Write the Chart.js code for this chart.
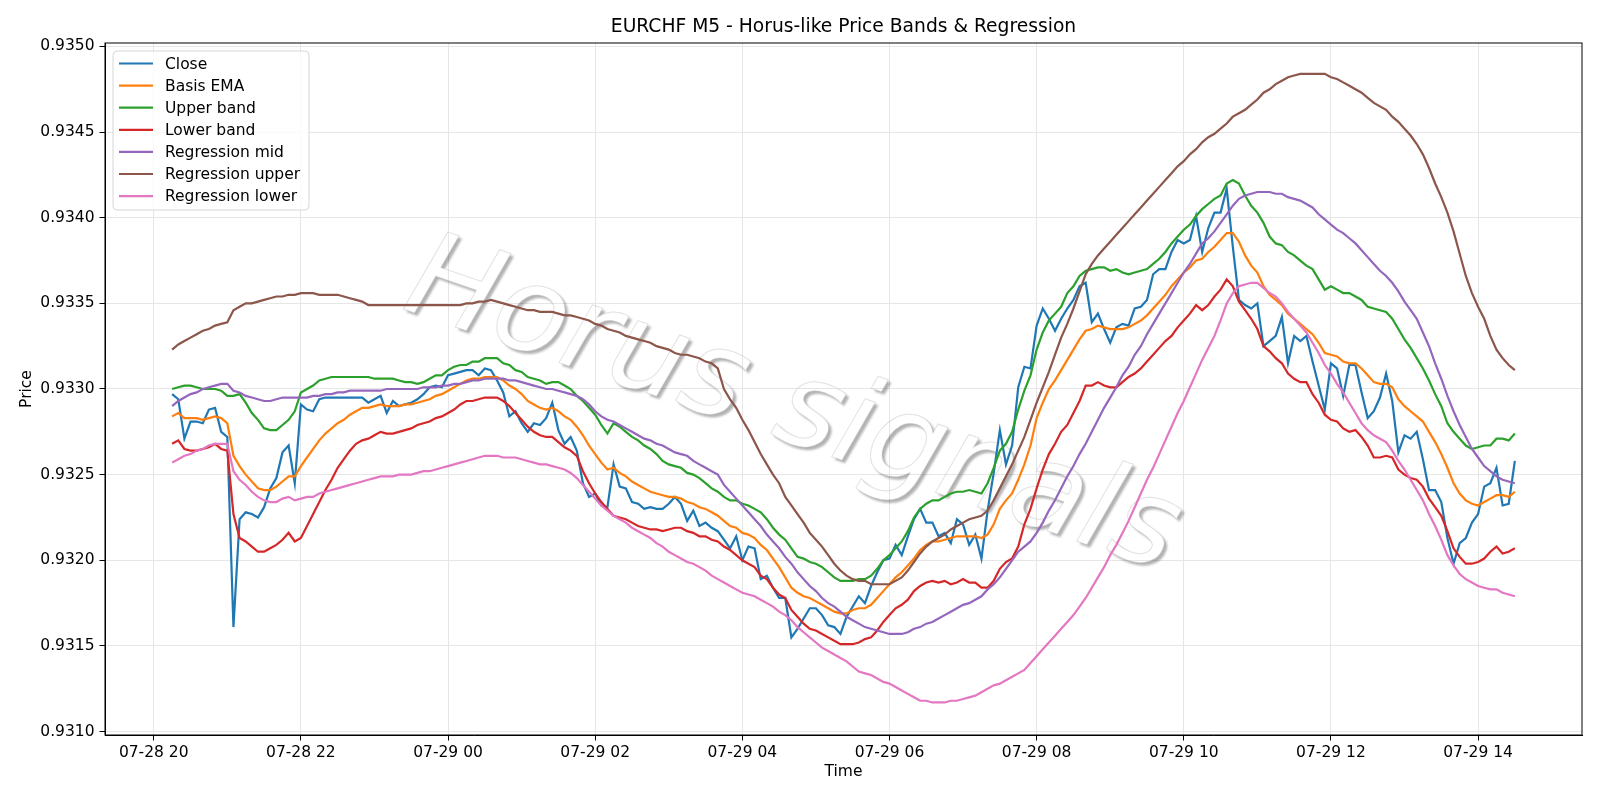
<!DOCTYPE html>
<html>
<head>
<meta charset="utf-8">
<title>EURCHF M5 - Horus-like Price Bands & Regression</title>
<script src="https://cdn.jsdelivr.net/npm/chart.js@4.4.1/dist/chart.umd.min.js"></script>
<style>
html, body { margin: 0; padding: 0; background: #fff; }
</style>
</head>
<body>
<canvas id="chart" width="1600" height="800"></canvas>
<script>
// prices are kept in steps of 0.00001 above 0.93000 (297 -> 0.93297)
const base = 0.93
const step = 0.00001
// first bar 07-28 20:15, one bar every 5 minutes, x is in hours since 07-28 00:00
const start_hour = 20.25
const bar_minutes = 5

const close = [297,294,271,281,281,280,288,289,275,272,
    161,224,228,227,225,231,242,248,263,267,
    245,291,288,287,294,295,295,295,295,295,
    295,295,292,294,296,286,293,290,291,292,
    294,297,301,302,301,308,309,310,311,311,
    308,312,311,305,298,284,287,280,275,280,
    279,283,292,276,268,272,264,245,237,239,
    232,231,256,243,242,234,233,230,231,230,
    230,233,237,233,223,229,220,222,219,217,
    212,207,214,200,208,207,189,191,184,178,
    178,155,160,166,172,172,168,162,161,157,
    167,173,179,175,185,193,200,201,209,203,
    214,224,230,222,222,214,216,210,224,221,
    209,215,201,229,251,276,256,267,301,313,
    312,337,347,341,334,341,347,352,360,362,
    339,344,335,327,336,338,337,347,348,352,
    367,370,370,380,387,385,387,401,380,394,
    403,403,417,383,352,349,347,350,325,328,
    331,342,315,331,328,331,316,302,288,315,
    312,296,314,314,298,283,287,295,309,293,
    263,273,271,275,259,241,241,234,213,198,
    210,213,222,227,243,245,254,232,233,258]

const basis_ema = [284,286,283,283,283,282,283,284,283,280,
    261,255,250,246,242,241,241,243,246,249,
    249,255,260,265,270,274,277,280,282,285,
    287,289,289,290,291,290,290,290,291,291,
    292,293,294,296,297,299,301,303,305,306,
    306,307,307,307,305,302,300,297,293,291,
    289,288,289,287,284,282,278,273,267,262,
    257,253,254,251,249,246,244,242,240,239,
    238,237,237,236,234,233,231,230,228,226,
    223,220,219,216,215,213,209,206,201,196,
    190,184,181,179,178,176,174,172,170,169,
    169,171,172,172,174,178,182,186,190,193,
    197,201,206,209,211,211,212,213,214,214,
    214,214,213,215,221,230,235,239,247,256,
    267,283,292,300,305,311,317,323,329,334,
    335,337,336,335,335,335,336,338,340,343,
    347,351,355,360,364,368,371,375,376,380,
    383,387,391,391,386,378,372,368,360,355,
    352,349,344,341,338,335,332,327,321,320,
    319,316,315,315,312,308,304,303,303,301,
    294,290,287,284,281,275,269,262,254,245,
    239,235,233,232,234,236,238,238,237,240]

const upper_band = [300,301,302,302,301,300,300,300,299,296,
    296,297,292,286,282,277,276,276,279,282,
    287,298,300,302,305,306,307,307,307,307,
    307,307,307,306,306,306,306,305,304,304,
    303,304,306,308,308,311,313,314,314,316,
    316,318,318,318,315,314,311,310,307,306,
    305,303,304,304,302,300,296,293,289,285,
    279,274,280,278,275,272,270,267,265,262,
    258,256,255,254,251,250,248,245,242,240,
    237,235,235,233,232,230,228,224,219,215,
    212,207,202,201,199,198,196,193,190,188,
    188,188,189,189,191,195,200,203,207,211,
    217,225,230,233,235,235,237,239,240,240,
    241,240,239,245,254,264,268,275,288,299,
    308,323,333,340,344,348,356,360,366,369,
    370,371,371,369,370,368,367,368,369,370,
    373,376,380,385,389,393,396,401,405,408,
    411,413,420,422,420,413,407,403,397,389,
    385,384,380,378,375,372,370,364,358,360,
    358,356,356,354,352,348,347,346,345,341,
    335,329,324,318,312,305,297,290,280,275,
    271,267,265,266,267,267,271,271,270,274]

const lower_band = [268,270,265,264,264,265,266,268,265,264,
    227,213,211,208,205,205,207,209,212,216,
    211,213,220,227,234,241,247,254,259,264,
    268,270,271,273,275,274,274,275,276,277,
    279,280,281,283,284,286,288,291,293,293,
    294,295,295,295,293,290,286,282,278,275,
    273,272,272,269,266,264,261,252,245,239,
    234,230,226,225,224,222,220,219,218,218,
    217,218,219,219,217,216,214,214,212,211,
    208,206,203,200,198,196,191,189,184,180,
    178,171,167,163,160,159,157,155,153,151,
    151,151,152,154,155,159,164,168,172,174,
    177,182,185,187,188,187,188,186,187,189,
    187,187,184,184,188,195,199,201,208,221,
    230,242,253,262,268,275,279,286,293,302,
    302,304,302,301,301,304,307,309,312,316,
    320,324,328,331,336,340,344,349,346,349,
    354,358,364,360,351,346,341,335,325,322,
    318,315,309,306,304,304,297,292,285,282,
    281,277,275,276,272,267,260,260,261,260,
    253,250,248,247,243,236,231,226,217,207,
    202,198,198,199,201,205,208,204,205,207]

const reg_mid = [290,293,295,297,298,300,301,302,303,303,
    299,298,296,295,294,293,293,294,295,295,
    295,295,295,296,296,297,297,298,298,299,
    299,299,299,299,299,300,300,300,300,300,
    300,301,301,301,302,302,303,303,304,305,
    305,306,306,306,306,305,305,304,303,302,
    301,300,300,299,298,297,296,294,291,287,
    284,282,281,279,277,275,273,271,270,268,
    267,265,263,262,261,258,256,254,252,250,
    244,240,236,232,228,224,220,215,211,207,
    202,198,193,189,185,182,178,175,173,170,
    167,165,163,161,160,159,158,157,157,157,
    158,160,161,163,164,166,168,170,172,174,
    175,177,179,183,186,190,195,200,205,208,
    211,216,222,229,235,242,249,255,262,268,
    275,282,289,295,301,308,313,320,325,332,
    338,344,350,356,362,368,373,379,385,388,
    392,397,402,407,411,413,414,415,415,415,
    414,414,412,411,410,408,406,402,399,396,
    393,391,388,385,381,377,373,369,366,362,
    357,351,346,341,333,325,315,306,296,287,
    279,272,265,260,255,252,249,247,246,245]

const reg_upper = [323,326,328,330,332,334,335,337,338,339,
    346,348,350,350,351,352,353,354,354,355,
    355,356,356,356,355,355,355,355,354,353,
    352,351,349,349,349,349,349,349,349,349,
    349,349,349,349,349,349,349,349,350,350,
    351,351,352,351,350,349,348,347,346,346,
    345,345,345,344,343,343,342,341,340,338,
    337,335,334,333,331,330,329,328,327,325,
    324,323,321,320,320,319,318,316,315,312,
    300,294,289,282,276,269,262,256,250,245,
    237,232,227,222,216,212,208,203,198,194,
    191,189,188,188,186,186,186,186,188,190,
    194,199,204,208,211,213,215,218,220,222,
    224,225,226,229,235,242,249,256,264,272,
    282,292,301,310,320,330,338,347,357,367,
    373,378,382,386,390,394,398,402,406,410,
    414,418,422,426,430,433,437,440,444,447,
    449,452,455,459,461,463,466,469,473,475,
    478,480,482,483,484,484,484,484,484,482,
    481,479,477,475,473,470,467,465,463,459,
    456,452,448,443,437,429,420,412,403,392,
    379,366,356,348,341,331,323,318,314,311]

const reg_lower = [257,259,261,262,264,265,267,268,268,268,
    252,247,244,240,237,235,234,234,236,237,
    235,236,237,237,239,240,241,242,243,244,
    245,246,247,248,249,249,249,250,250,250,
    251,252,252,253,254,255,256,257,258,259,
    260,261,261,261,260,260,260,259,258,257,
    256,256,255,254,253,251,248,244,240,236,
    232,229,226,224,222,219,217,215,213,210,
    208,205,203,201,199,198,196,194,191,189,
    187,185,183,181,180,179,177,175,173,170,
    168,165,161,158,155,152,149,147,145,143,
    141,138,135,134,133,131,129,128,126,124,
    122,120,118,118,117,117,117,118,118,119,
    120,121,123,125,127,128,130,132,134,136,
    140,144,148,152,156,160,164,168,173,178,
    184,190,196,203,209,216,223,231,239,247,
    254,262,270,278,286,293,301,309,317,324,
    331,340,350,356,360,361,362,362,359,356,
    354,350,345,341,337,333,327,321,314,309,
    303,298,292,286,280,276,273,271,269,264,
    258,253,247,241,235,227,220,212,203,197,
    192,189,187,185,184,183,183,181,180,179]

const names = ["Close", "Basis EMA", "Upper band", "Lower band", "Regression mid", "Regression upper", "Regression lower"]
const colors = ["#1f77b4", "#ff7f0e", "#2ca02c", "#d62728", "#9467bd", "#8c564b", "#e377c2"]
const series = [close, basis_ema, upper_band, lower_band, reg_mid, reg_upper, reg_lower]

const tick_hours = [20, 22, 24, 26, 28, 30, 32, 34, 36, 38]
const tick_labels = ["07-28 20", "07-28 22", "07-29 00", "07-29 02", "07-29 04", "07-29 06", "07-29 08", "07-29 10", "07-29 12", "07-29 14"]
const price_ticks = [0.9310, 0.9315, 0.9320, 0.9325, 0.9330, 0.9335, 0.9340, 0.9345, 0.9350]

const title_text = "EURCHF M5 - Horus-like Price Bands & Regression"
const watermark_text = "Horus signals"

const font_family = '"DejaVu Sans", "Liberation Sans", sans-serif'

function to_points(values){
    return values.map((v, i) => ({x: start_hour + i * bar_minutes / 60, y: base + v * step}))
}

let datasets = []
for(let k = 0; k < series.length; k++){
    datasets.push({
        label: names[k],
        data: to_points(series[k]),
        borderColor: colors[k],
        backgroundColor: colors[k],
        borderWidth: 2.2,
        pointRadius: 0,
        tension: 0,
        fill: false,
        order: series.length - k   // later series on top, like the original
    })
}

// watermark on its own layer: the shadow edge left over after cutting out the glyphs,
// plus a faint outline, so the grid still shows through the letters
function make_watermark(w, h){
    const off = document.createElement("canvas")
    off.width = w
    off.height = h
    const c = off.getContext("2d")
    const cx = 792, cy = 410, angle = 19 * Math.PI / 180
    c.font = "italic 120px " + font_family
    c.textAlign = "center"
    c.textBaseline = "middle"

    c.save()
    c.translate(cx + 3, cy + 3)
    c.rotate(angle)
    c.filter = "blur(0.8px)"
    c.fillStyle = "rgba(0,0,0,0.30)"
    c.fillText(watermark_text, 0, 0)
    c.restore()

    c.save()
    c.globalCompositeOperation = "destination-out"
    c.translate(cx, cy)
    c.rotate(angle)
    c.fillStyle = "#000"
    c.fillText(watermark_text, 0, 0)
    c.restore()

    c.save()
    c.translate(cx, cy)
    c.rotate(angle)
    c.strokeStyle = "rgba(190,190,190,0.45)"
    c.lineWidth = 1
    c.strokeText(watermark_text, 0, 0)
    c.restore()
    return off
}

const extras = {
    id: "extras",
    beforeDatasetsDraw(chart){
        if(!chart.$watermark){
            chart.$watermark = make_watermark(chart.width, chart.height)
        }
        chart.ctx.drawImage(chart.$watermark, 0, 0)
    },
    afterDraw(chart){
        const c = chart.ctx
        const a = chart.chartArea
        c.save()
        // axes frame
        c.strokeStyle = "#000"
        c.lineWidth = 1
        c.strokeRect(a.left, a.top, a.right - a.left, a.bottom - a.top)

        // title and axis labels
        c.fillStyle = "#000"
        c.textAlign = "center"
        c.textBaseline = "middle"
        c.font = "18.7px " + font_family
        c.fillText(title_text, (a.left + a.right) / 2, 27)
        c.font = "15.5px " + font_family
        c.fillText("Time", (a.left + a.right) / 2, 772)
        c.save()
        c.translate(27, (a.top + a.bottom) / 2)
        c.rotate(-Math.PI / 2)
        c.fillText("Price", 0, 0)
        c.restore()

        // legend, top left inside the axes
        const lx = a.left + 8, ly = a.top + 8, lw = 196, lh = 159, r = 4
        c.beginPath()
        c.moveTo(lx + r, ly)
        c.arcTo(lx + lw, ly, lx + lw, ly + lh, r)
        c.arcTo(lx + lw, ly + lh, lx, ly + lh, r)
        c.arcTo(lx, ly + lh, lx, ly, r)
        c.arcTo(lx, ly, lx + lw, ly, r)
        c.closePath()
        c.fillStyle = "rgba(255,255,255,0.8)"
        c.fill()
        c.strokeStyle = "#d6d6d6"
        c.lineWidth = 1
        c.stroke()
        c.textAlign = "left"
        c.font = "15.5px " + font_family
        for(let k = 0; k < names.length; k++){
            const y = ly + 12.5 + k * 22.1
            c.strokeStyle = colors[k]
            c.lineWidth = 2.2
            c.beginPath()
            c.moveTo(lx + 6, y)
            c.lineTo(lx + 40, y)
            c.stroke()
            c.fillStyle = "#000"
            c.fillText(names[k], lx + 52, y + 1)
        }
        c.restore()
    }
}

new Chart(document.getElementById("chart").getContext("2d"), {
    type: "line",
    data: {datasets},
    options: {
        responsive: false,
        animation: false,
        events: [],
        layout: {padding: {top: 43, right: 18, left: 0, bottom: 0}},
        plugins: {
            legend: {display: false},
            title: {display: false},
            tooltip: {enabled: false}
        },
        scales: {
            x: {
                type: "linear",
                min: 19.3375,
                max: 39.4125,
                afterBuildTicks: (s) => { s.ticks = tick_hours.map(v => ({value: v})) },
                afterFit: (s) => { s.height = 65 },
                ticks: {
                    callback: (v, i) => tick_labels[i],
                    autoSkip: false,
                    maxRotation: 0,
                    padding: 3,
                    color: "#000",
                    font: {family: font_family, size: 15.5}
                },
                grid: {color: "#e6e6e6", lineWidth: 1, tickColor: "#000", tickLength: 5.5},
                border: {color: "#000", width: 1}
            },
            y: {
                type: "linear",
                min: 0.93098,
                max: 0.93502,
                afterBuildTicks: (s) => { s.ticks = price_ticks.map(v => ({value: v})) },
                afterFit: (s) => { s.width = 105 },
                ticks: {
                    callback: (v) => v.toFixed(4),
                    autoSkip: false,
                    padding: 5,
                    color: "#000",
                    font: {family: font_family, size: 15.5}
                },
                grid: {color: "#e6e6e6", lineWidth: 1, tickColor: "#000", tickLength: 5.5},
                border: {color: "#000", width: 1}
            }
        }
    },
    plugins: [extras]
})
</script>
</body>
</html>
